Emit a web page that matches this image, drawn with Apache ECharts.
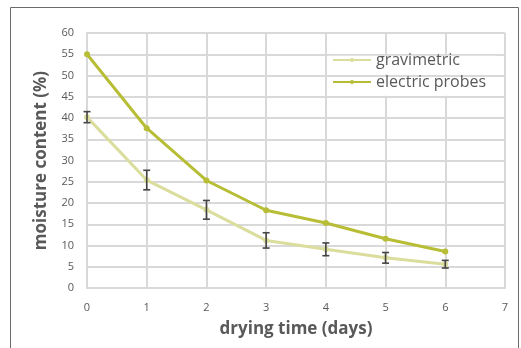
<!DOCTYPE html>
<html>
<head>
<meta charset="utf-8">
<script src="https://cdn.jsdelivr.net/npm/echarts@6/dist/echarts.min.js"></script>
<style>
  html, body { margin: 0; padding: 0; background: #fff; }
  #chart { width: 521px; height: 348px; }
</style>
</head>
<body>
<div id="chart"></div>
<script>
// drying days
const days = [0, 1, 2, 3, 4, 5, 6];
// moisture content (%) by method
const gravimetric = [40.2, 25.4, 18.4, 11.2, 9.1, 7.1, 5.6];
const gravimetricErr = [1.3, 2.3, 2.2, 1.8, 1.5, 1.25, 0.9];
const electricProbes = [55.0, 37.6, 25.3, 18.3, 15.3, 11.6, 8.6];

const FONT = '"Open Sans", "Noto Sans", sans-serif';
const GRID_COLOR = '#d9d9d9';
const TEXT_COLOR = '#595959';
const GRAV_COLOR = '#dadd9c';
const ELEC_COLOR = '#b7bd35';

const pairs = (xs, ys) => xs.map((x, i) => [x, ys[i]]);
const errData = days.map((d, i) => [d, gravimetric[i] - gravimetricErr[i], gravimetric[i] + gravimetricErr[i]]);

const chart = echarts.init(document.getElementById('chart'), null, { renderer: 'canvas' });

const legendBase = {
  orient: 'vertical',
  left: 332,
  itemWidth: 38,
  itemHeight: 5,
  itemGap: 4,
  padding: 0,
  textStyle: { fontFamily: FONT, fontSize: 16, color: TEXT_COLOR, lineHeight: 14 }
};

// white patches behind each legend row, kept between the grid lines
const legendPatch = (y, h) => ({
  type: 'rect',
  shape: { x: 329, y: y, width: 168, height: h },
  style: { fill: '#fff' },
  silent: true,
  z: 3
});

chart.setOption({
  animation: false,
  textStyle: { fontFamily: FONT },
  graphic: [
    {
      type: 'rect',
      shape: { x: 10.5, y: 7.5, width: 508, height: 360 },
      style: { fill: 'none', stroke: '#6b6b6b', lineWidth: 1 },
      silent: true,
      z: -10
    },
    legendPatch(55.8, 18.6),
    legendPatch(77, 18.8)
  ],
  grid: { left: 87, right: 16, top: 33, bottom: 60 },
  legend: [
    Object.assign({}, legendBase, { top: 52, data: ['gravimetric'] }),
    Object.assign({}, legendBase, { top: 74, data: ['electric probes'] })
  ],
  xAxis: {
    type: 'value',
    min: 0, max: 7, interval: 1,
    name: 'drying time (days)',
    nameLocation: 'middle',
    nameGap: 33,
    nameTextStyle: { fontFamily: FONT, fontSize: 17, fontWeight: 'bold', color: TEXT_COLOR },
    axisLine: { show: true, lineStyle: { color: GRID_COLOR, width: 2 } },
    axisTick: { show: false },
    axisLabel: { color: TEXT_COLOR, fontSize: 11, margin: 14, fontFamily: FONT },
    splitLine: { show: true, lineStyle: { color: GRID_COLOR, width: 2 } }
  },
  yAxis: {
    type: 'value',
    min: 0, max: 60, interval: 5,
    name: 'moisture content (%)',
    nameLocation: 'middle',
    nameGap: 37,
    nameTextStyle: { fontFamily: FONT, fontSize: 17, fontWeight: 'bold', color: TEXT_COLOR },
    axisLine: { show: true, lineStyle: { color: GRID_COLOR, width: 2 } },
    axisTick: { show: false },
    axisLabel: { color: TEXT_COLOR, fontSize: 11, margin: 13, fontFamily: FONT },
    splitLine: { show: true, lineStyle: { color: GRID_COLOR, width: 2 } }
  },
  series: [
    {
      name: 'gravimetric',
      type: 'line',
      data: pairs(days, gravimetric),
      symbol: 'circle',
      symbolSize: 6,
      lineStyle: { color: GRAV_COLOR, width: 3 },
      itemStyle: { color: GRAV_COLOR },
      z: 2
    },
    {
      name: 'electric probes',
      type: 'line',
      data: pairs(days, electricProbes),
      symbol: 'circle',
      symbolSize: 6,
      lineStyle: { color: ELEC_COLOR, width: 3 },
      itemStyle: { color: ELEC_COLOR },
      z: 2
    },
    {
      name: 'error',
      type: 'custom',
      data: errData,
      z: 3,
      silent: true,
      encode: { x: 0, y: [1, 2] },
      renderItem: function (params, api) {
        const lo = api.coord([api.value(0), api.value(1)]);
        const hi = api.coord([api.value(0), api.value(2)]);
        const cap = 3.5;
        const style = { stroke: '#454545', lineWidth: 1.6, fill: 'none' };
        return {
          type: 'group',
          children: [
            { type: 'line', shape: { x1: hi[0], y1: hi[1], x2: lo[0], y2: lo[1] }, style: style },
            { type: 'line', shape: { x1: hi[0] - cap, y1: hi[1], x2: hi[0] + cap, y2: hi[1] }, style: style },
            { type: 'line', shape: { x1: lo[0] - cap, y1: lo[1], x2: lo[0] + cap, y2: lo[1] }, style: style }
          ]
        };
      }
    }
  ]
});
</script>
</body>
</html>
